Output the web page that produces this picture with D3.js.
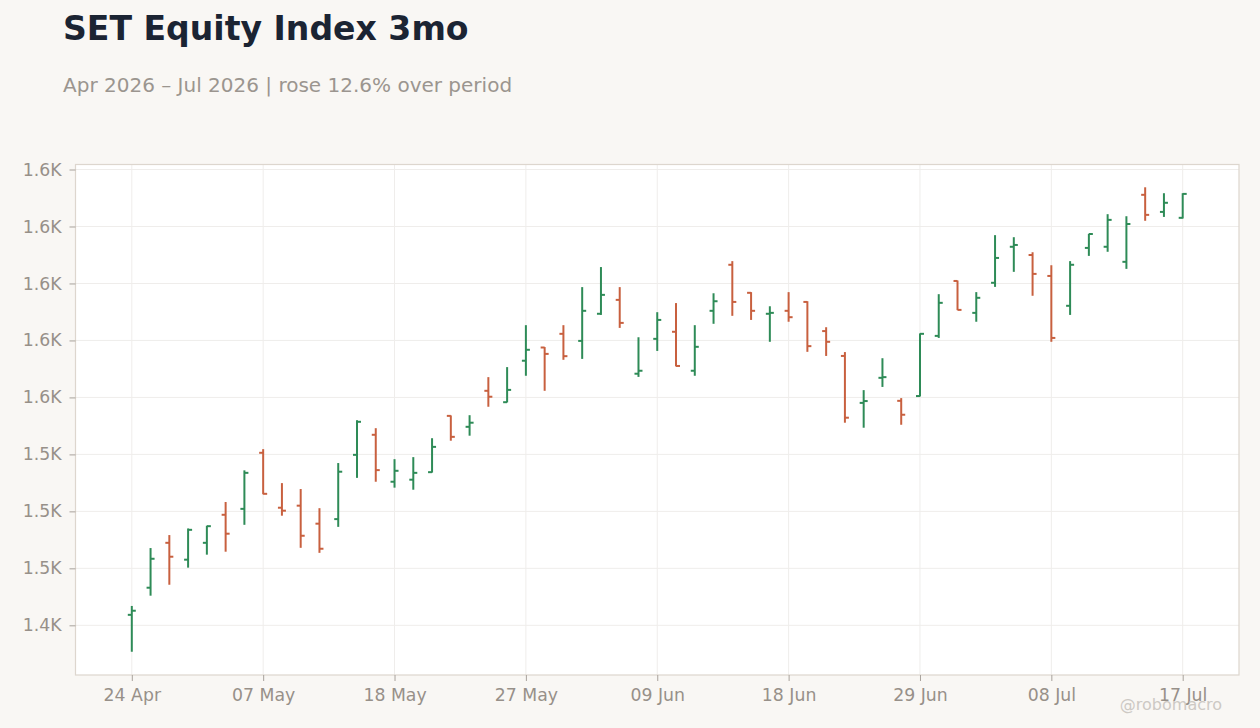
<!DOCTYPE html>
<html>
<head>
<meta charset="utf-8">
<script src="https://cdn.jsdelivr.net/npm/d3@7"></script>
<style>
  body { margin: 0; background: #f9f7f4; }
  svg { display: block; font-family: "DejaVu Sans", sans-serif; }
</style>
</head>
<body>
<svg id="chart"></svg>
<script>
// trading days, one bar each
var dates = [
  "2026-04-24","2026-04-27","2026-04-28","2026-04-29","2026-04-30","2026-05-05","2026-05-06","2026-05-07",
  "2026-05-08","2026-05-11","2026-05-12","2026-05-13","2026-05-14","2026-05-15","2026-05-18",
  "2026-05-19","2026-05-20","2026-05-21","2026-05-22","2026-05-25","2026-05-26","2026-05-27",
  "2026-05-28","2026-05-29","2026-06-02","2026-06-04","2026-06-05","2026-06-08","2026-06-09",
  "2026-06-10","2026-06-11","2026-06-12","2026-06-15","2026-06-16","2026-06-17","2026-06-18",
  "2026-06-19","2026-06-22","2026-06-23","2026-06-24","2026-06-25","2026-06-26","2026-06-29",
  "2026-06-30","2026-07-01","2026-07-02","2026-07-03","2026-07-06","2026-07-07","2026-07-08",
  "2026-07-09","2026-07-10","2026-07-13","2026-07-14","2026-07-15","2026-07-16","2026-07-17"
]
var open = [
  1429.6,1441.5,1461.2,1453.8,1461.2,1473.5,1476.1,1500.7,
  1476.6,1477.5,1469.6,1471.6,1499.8,1508.6,1488.0,
  1488.9,1492.2,1516.9,1512.1,1527.9,1522.9,1541.1,
  1546.9,1552.9,1549.8,1561.7,1567.8,1535.4,1550.7,
  1553.8,1536.7,1563.0,1583.2,1570.9,1561.7,1563.0,
  1566.9,1554.1,1543.2,1522.6,1533.6,1523.5,1525.6,
  1552.0,1576.1,1562.1,1575.3,1591.1,1587.5,1578.3,
  1565.2,1590.6,1591.1,1584.5,1613.9,1606.4,1603.8
]
var high = [
  1433.5,1458.9,1464.6,1467.5,1468.7,1479.1,1493.0,1502.3,
  1487.4,1484.8,1476.4,1496.2,1515.0,1511.5,1497.9,
  1498.8,1507.1,1517.1,1517.2,1533.9,1538.3,1556.7,
  1547.1,1556.7,1573.4,1582.2,1573.4,1551.4,1562.4,
  1566.4,1556.7,1570.7,1584.8,1571.2,1565.0,1571.2,
  1567.2,1555.8,1544.9,1528.2,1542.2,1524.7,1553.1,
  1570.3,1576.3,1571.2,1596.2,1595.3,1588.7,1583.0,
  1584.8,1596.8,1605.4,1604.5,1617.2,1614.6,1614.6
]
var low = [
  1413.4,1438.0,1442.8,1450.3,1456.0,1457.3,1469.1,1482.5,
  1473.1,1459.0,1456.8,1468.2,1489.7,1488.0,1485.4,
  1484.5,1492.0,1506.0,1508.2,1520.9,1522.8,1534.5,
  1527.9,1541.5,1541.9,1561.2,1555.5,1534.0,1545.4,
  1538.6,1534.5,1557.3,1560.8,1559.0,1549.4,1558.2,
  1545.0,1543.2,1513.9,1511.7,1529.6,1513.0,1525.4,
  1551.1,1563.3,1558.2,1573.5,1580.1,1569.6,1549.4,
  1561.2,1587.1,1588.9,1581.4,1602.5,1604.2,1603.5
]
var close = [
  1431.4,1454.2,1455.1,1466.9,1468.5,1465.2,1491.9,1482.7,
  1475.3,1464.3,1458.6,1492.4,1514.3,1493.1,1492.8,
  1491.9,1503.3,1507.7,1513.9,1525.3,1528.3,1545.9,
  1544.1,1543.1,1563.0,1570.0,1557.7,1536.7,1559.0,
  1538.8,1547.2,1567.2,1566.9,1563.0,1562.1,1560.2,
  1547.5,1549.4,1516.1,1523.4,1533.9,1517.4,1552.9,
  1566.5,1563.4,1568.7,1586.2,1591.9,1579.2,1551.1,
  1583.2,1596.7,1602.9,1601.1,1605.1,1610.4,1614.3
]
var yTicks = [1425, 1450, 1475, 1500, 1525, 1550, 1575, 1600, 1625]
var yTickLabels = ["1.4K","1.5K","1.5K","1.5K","1.6K","1.6K","1.6K","1.6K","1.6K"]
var xTickEvery = 7

var title = "SET Equity Index 3mo"
var subtitle = "Apr 2026 \u2013 Jul 2026 | rose 12.6% over period"
var credit = "@robomacro"

var dimensions = {
    width: 1260,
    height: 728,
    margin: { top: 164.5, right: 21, bottom: 53, left: 75.5 }
}
var upColor = "#2e8b57"
var downColor = "#c8603f"
var textGray = "#979089"

var parseDate = d3.timeParse("%Y-%m-%d")
var fmtDate = d3.timeFormat("%d %b")

var bars = dates.map(function(d, i) {
    return { date: d, o: open[i], h: high[i], l: low[i], c: close[i] }
})

var svg = d3.select("#chart")
            .attr("width", dimensions.width)
            .attr("height", dimensions.height)

var plotLeft = dimensions.margin.left
var plotRight = dimensions.width - dimensions.margin.right
var plotTop = dimensions.margin.top
var plotBottom = dimensions.height - dimensions.margin.bottom

var xScale = d3.scalePoint()
               .domain(dates)
               .range([plotLeft, plotRight])
               .padding(3)

var yScale = d3.scaleLinear()
               .domain([1403.2, 1627.2])
               .range([plotBottom, plotTop])

// title block
svg.append("text")
   .attr("x", 63).attr("y", 40)
   .style("font-size", "33.1px").style("font-weight", "bold")
   .style("fill", "#1b2433")
   .text(title)
svg.append("text")
   .attr("x", 63).attr("y", 92)
   .style("font-size", "20px")
   .style("fill", "#9b958f")
   .text(subtitle)

// plot background
svg.append("rect")
   .attr("x", plotLeft).attr("y", plotTop)
   .attr("width", plotRight - plotLeft).attr("height", plotBottom - plotTop)
   .style("fill", "#ffffff")

// grid
var grid = svg.append("g")
grid.selectAll(".hgrid")
    .data(yTicks)
    .enter().append("line")
    .attr("x1", plotLeft).attr("x2", plotRight)
    .attr("y1", d => yScale(d)).attr("y2", d => yScale(d))
    .style("stroke", "#efedeb").style("stroke-width", 1)

var xTickDates = dates.filter((d, i) => i % xTickEvery == 0)
grid.selectAll(".vgrid")
    .data(xTickDates)
    .enter().append("line")
    .attr("x1", d => xScale(d)).attr("x2", d => xScale(d))
    .attr("y1", plotTop).attr("y2", plotBottom)
    .style("stroke", "#efedeb").style("stroke-width", 1)

// frame
svg.append("rect")
   .attr("x", plotLeft).attr("y", plotTop)
   .attr("width", plotRight - plotLeft).attr("height", plotBottom - plotTop)
   .style("fill", "none")
   .style("stroke", "#ddd6ce").style("stroke-width", 1.2)

// axes
var yAxis = d3.axisLeft(yScale)
              .tickValues(yTicks)
              .tickFormat((d, i) => yTickLabels[i])
              .tickSize(6)
              .tickPadding(8)
var yG = svg.append("g")
            .attr("transform", "translate(" + plotLeft + ",0)")
            .call(yAxis)
var xAxis = d3.axisBottom(xScale)
              .tickValues(xTickDates)
              .tickFormat(d => fmtDate(parseDate(d)))
              .tickSize(6)
              .tickPadding(8)
var xG = svg.append("g")
            .attr("transform", "translate(0," + plotBottom + ")")
            .call(xAxis)

;[yG, xG].forEach(function(g) {
    g.select(".domain").remove()
    g.selectAll(".tick line").style("stroke", "#a8a29c")
    g.selectAll(".tick text")
     .style("fill", textGray)
     .style("font-size", "17.3px")
     .style("font-family", "DejaVu Sans, sans-serif")
})

// OHLC bars
var colorOf = d => d.c >= d.o ? upColor : downColor
var tickLen = 4

var ohlc = svg.append("g")
              .selectAll("g")
              .data(bars)
              .enter()
              .append("g")
              .style("stroke", colorOf)
              .style("stroke-width", 2)

ohlc.append("line")
    .attr("x1", d => xScale(d.date)).attr("x2", d => xScale(d.date))
    .attr("y1", d => yScale(d.h)).attr("y2", d => yScale(d.l))
ohlc.append("line")
    .attr("x1", d => xScale(d.date) - tickLen).attr("x2", d => xScale(d.date))
    .attr("y1", d => yScale(d.o)).attr("y2", d => yScale(d.o))
ohlc.append("line")
    .attr("x1", d => xScale(d.date)).attr("x2", d => xScale(d.date) + tickLen)
    .attr("y1", d => yScale(d.c)).attr("y2", d => yScale(d.c))

// credit
svg.append("text")
   .attr("x", 1222).attr("y", 710)
   .attr("text-anchor", "end")
   .style("font-size", "16px")
   .style("fill", "#cdc9c4")
   .text(credit)
</script>
</body>
</html>
